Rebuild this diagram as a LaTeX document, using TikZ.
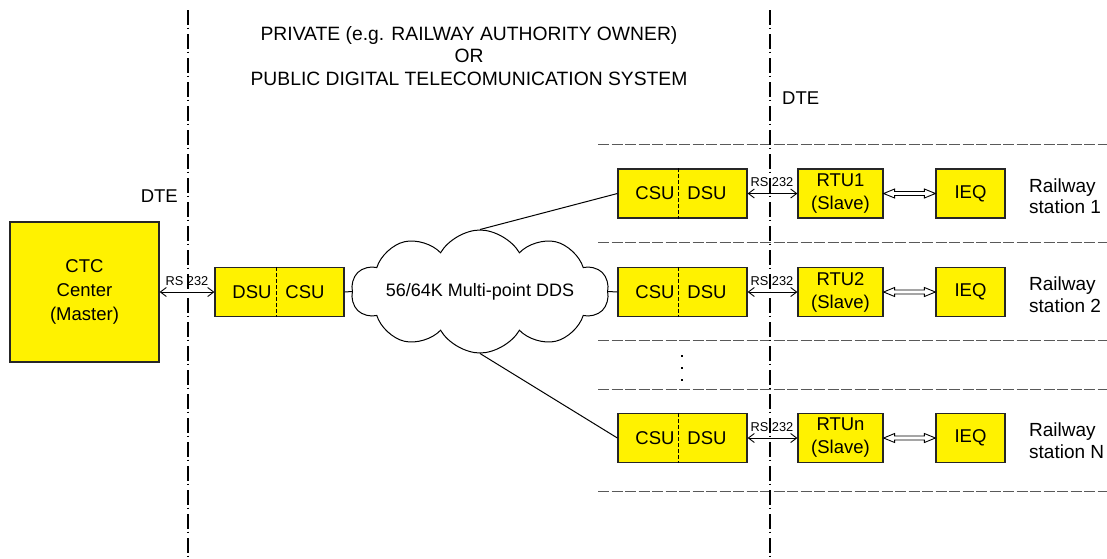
\documentclass[tikz,border=0pt]{standalone}
\usepackage{fontspec}
\setmainfont{Liberation Sans}
\usetikzlibrary{arrows.meta,shapes.symbols,calc}
\begin{document}
\begin{tikzpicture}[x=1pt,y=-1pt,
  box/.style={draw=black!85, line width=1.2pt, fill=yellow, inner sep=0pt},
  lbl/.style={font=\fontsize{18.5}{23}\selectfont, inner sep=0pt, align=center},
  lbll/.style={font=\fontsize{19}{21.5}\selectfont, inner sep=0pt, align=left},
  small/.style={font=\fontsize{12.8}{14}\selectfont, inner sep=0pt},
  rs/.style={{Straight Barb[length=6pt,width=9pt]}-{Straight Barb[length=6pt,width=9pt]}, line width=0.9pt},
  conn/.style={line width=1pt},
  sep/.style={draw=black!65, line width=1pt, dash pattern=on 11pt off 2.5pt},
  boundary/.style={line width=1.4pt, dash pattern=on 15pt off 2.5pt on 1.5pt off 5pt},
  divider/.style={line width=1pt, dash pattern=on 4pt off 2pt}
]
\useasboundingbox[fill=white] (0,0) rectangle (1107,558);

\newcommand\hollowarrow[2]{%
  \draw[line width=0.9pt, fill=white] (#1) -- ($(#1)+(11,-4.5)$) -- ($(#1)+(11,-2)$) -- ($(#2)+(-11,-2)$) -- ($(#2)+(-11,-4.5)$) -- (#2) -- ($(#2)+(-11,4.5)$) -- ($(#2)+(-11,2)$) -- ($(#1)+(11,2)$) -- ($(#1)+(11,4.5)$) -- cycle;}

% separators
\foreach \yy in {144,242,340,389,491} \draw[sep] (598,\yy) -- (1107,\yy);

% title
\node[font=\fontsize{19.3}{22.5}\selectfont, inner sep=0pt, align=center] (title) at (469,56) {PRIVATE (e.g. RAILWAY AUTHORITY OWNER)\\OR\\PUBLIC DIGITAL TELECOMUNICATION SYSTEM};
\node[lbl, anchor=base east] (dteL) at (178,202) {DTE};
\node[lbl, anchor=base west] (dteR) at (782,104) {DTE};

% CTC
\node[box, minimum width=149pt, minimum height=140pt, align=center, font=\fontsize{18.5}{24}\selectfont] (ctc) at (84.5,292) {CTC\\Center\\(Master)};

% left DSU/CSU
\node[box, minimum width=129pt, minimum height=49pt] (dcl) at (279.5,292) {};
\draw[divider] ($(dcl.north west)!0.48!(dcl.north east)$) -- ($(dcl.south west)!0.48!(dcl.south east)$);
\node[lbl] (dclA) at (252,292) {DSU};
\node[lbl] (dclB) at (305,292) {CSU};

% cloud
\node[cloud, draw, line width=1pt, cloud puffs=10, cloud puff arc=120, cloud ignores aspect,
  minimum width=214pt, minimum height=123pt, inner sep=0pt, font=\fontsize{18}{23}\selectfont] (cloud) at (480,291.5) {56/64K Multi-point DDS};

% rows
\foreach \n/\yy/\lab/\st in {1/193.5/RTU1/1, 2/292/RTU2/2, n/438/RTUn/N} {
  \node[box, minimum width=129pt, minimum height=49pt] (c\n) at (682.5,\yy) {};
  \draw[divider] ($(c\n.north west)!0.473!(c\n.north east)$) -- ($(c\n.south west)!0.473!(c\n.south east)$);
  \node[lbl] (c\n A) at (655,\yy) {CSU};
  \node[lbl] (c\n B) at (707,\yy) {DSU};
  \node[box, minimum width=85pt, minimum height=49pt, lbl] (r\n) at (840.5,\yy) {\lab\\(Slave)};
  \node[box, minimum width=69pt, minimum height=49pt, lbl] (i\n) at (970.5,\yy) {IEQ};
  \node[lbll, anchor=west] (st\n) at (1029,\yy+2.5) {Railway\\station \st};
  \draw[rs] (c\n.east) -- (r\n.west);
  \node[small, anchor=base] (rsl\n) at (772,\yy-7) {RS 232};
  \hollowarrow{r\n.east}{i\n.west}
}

% connectors
\draw[rs] (ctc.east) -- (dcl.west);
\node[small, anchor=base] (rsl0) at (187,285) {RS 232};
\draw[conn] (dcl.east) -- (cloud.west);
\draw[conn] (cloud.east) -- (c2.west);
\draw[conn] (cloud.north) -- (c1.west);
\draw[conn] (cloud.south) -- (cn.west);

% vertical dots
\foreach \yy in {355,367,379} \fill (681,\yy) rectangle (683,\yy+2);

% boundaries
\draw[boundary] (188,10) -- (188,558);
\draw[boundary] (770,10) -- (770,558);
\end{tikzpicture}
\end{document}
